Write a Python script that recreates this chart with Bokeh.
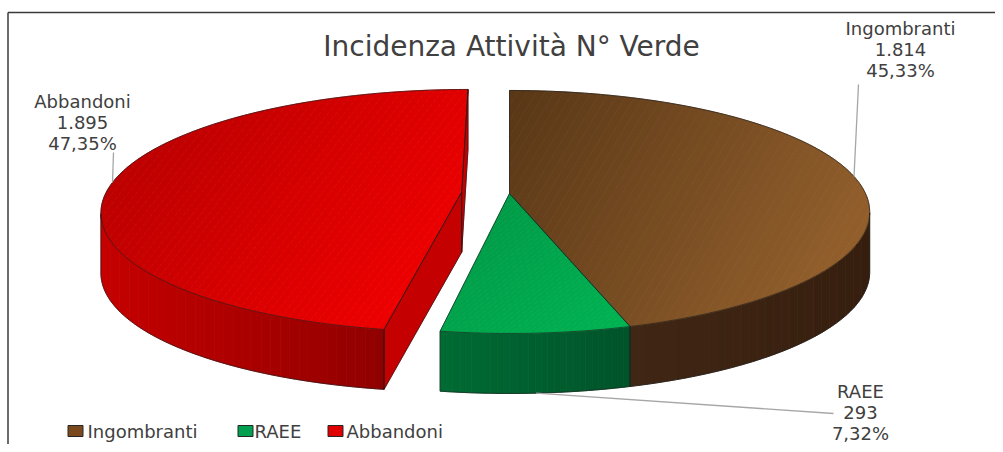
import numpy as np
from bokeh.plotting import figure
from bokeh.models import Range1d, ColumnDataSource
from bokeh.embed import file_html
from bokeh.resources import INLINE
from bokeh.core.properties import value

# ---------------- data ----------------
title_text = "Incidenza Attività N° Verde"
categories = ["Ingombranti", "RAEE", "Abbandoni"]
counts = [1814, 293, 1895]
explode = [0.0, 0.0, 0.135]

total = sum(counts)
shares = [c / total for c in counts]
count_labels = [f"{c:,}".replace(",", ".") for c in counts]
pct_labels = [f"{s * 100:.2f}".replace(".", ",") + "%" for s in shares]

# ---------------- layout / style ----------------
W, H = 995, 444
CX, CY = 509.0, 193.0
A, B, K, T = 356.0, 118.7, 0.152, 60.0
FONT = "DejaVu Sans"
TXT = "#404040"
EDGE = "#1c1c1c"

top_grad = [((520, 95), (860, 300), "#5A3817", "#98632E"),
            ((500, 190), (620, 335), "#009A47", "#00B352"),
            ((150, 110), (430, 330), "#BA0000", "#F40000")]
side_grad = [((630, 0), (870, 0), "#402715", "#361E0E"),
             ((440, 0), (630, 0), "#006B33", "#00532A"),
             ((100, 0), (385, 0), "#C60000", "#900000")]
cut_color = ["#4A2D15", "#006030", "#C40000"]
legend_fill = ["#7A4A1E", "#00A050", "#E00000"]

label_pos = [(900, 27.5), (860, 391), (82, 101)]   # centre x, middle of first line
line_gap = 21
lead_start = [(858, 84), (833, 413), (113, 152)]
lead_bottom = [False, True, False]
legend_x = [75, 245, 335]
legend_y = 430.5
legend_text_x = [87, 254, 346]


def hex2rgb(h):
    return tuple(int(h[i:i + 2], 16) for i in (1, 3, 5))


def mix(c0, c1, g):
    a, b = hex2rgb(c0), hex2rgb(c1)
    return "#%02x%02x%02x" % tuple(int(round(a[i] + (b[i] - a[i]) * g)) for i in range(3))


def gval(spec, x, y):
    (x0, y0), (x1, y1), c0, c1 = spec
    dx, dy = x1 - x0, y1 - y0
    return ((x - x0) * dx + (y - y0) * dy) / (dx * dx + dy * dy)


def clip(poly, f, keep_ge):
    out = []
    m = len(poly)
    for idx in range(m):
        p0, p1 = poly[idx], poly[(idx + 1) % m]
        f0, f1 = f(p0), f(p1)
        if not keep_ge:
            f0, f1 = -f0, -f1
        in0, in1 = f0 >= 0, f1 >= 0
        if in0:
            out.append(p0)
        if in0 != in1:
            t = f0 / (f0 - f1)
            out.append((p0[0] + t * (p1[0] - p0[0]), p0[1] + t * (p1[1] - p0[1])))
    return out


def bands(poly, spec, nb, xs_out, ys_out, c_out):
    gs = [gval(spec, q[0], q[1]) for q in poly]
    edges = np.linspace(min(gs), max(gs), nb + 1)
    for b in range(nb):
        lo, hi = edges[b], edges[b + 1]
        pc = clip(poly, lambda q, lo=lo: gval(spec, q[0], q[1]) - lo, True)
        if len(pc) < 3:
            continue
        pc = clip(pc, lambda q, hi=hi: gval(spec, q[0], q[1]) - hi, False)
        if len(pc) < 3:
            continue
        gm = min(1.0, max(0.0, 0.5 * (lo + hi)))
        xs_out.append([q[0] for q in pc]); ys_out.append([q[1] for q in pc])
        c_out.append(mix(spec[2], spec[3], gm))


def proj(u, v):
    s = 1.0 / (1.0 + K * v)
    return CX + A * u * s, CY - B * v * s


p = figure(width=W, height=H, output_backend="svg", toolbar_location=None,
           x_axis_type=None, y_axis_type=None, min_border=0,
           x_range=Range1d(0, W), y_range=Range1d(H, 0))
p.outline_line_color = None
p.background_fill_color = "white"
p.border_fill_color = "white"
p.grid.visible = False

angles = np.concatenate([[0.0], np.cumsum(shares)]) * 2 * np.pi
n = len(counts)

cut_xs, cut_ys, cut_c = [], [], []
side_xs, side_ys, side_c = [], [], []
top_xs, top_ys, top_c = [], [], []
out_xs, out_ys = [], []
rim_top, rim_bot = [], []

for i in range(n):
    t0, t1 = angles[i], angles[i + 1]
    tm = 0.5 * (t0 + t1)
    ou, ov = explode[i] * np.sin(tm), explode[i] * np.cos(tm)

    def P(r, t):
        return proj(ou + r * np.sin(t), ov + r * np.cos(t))

    cx0, cy0 = P(0, 0)
    rim_top.append(P(1.0, tm))
    xb, yb = P(1.0, tm)
    rim_bot.append((xb, yb + T))

    # cut faces of exploded slices
    for t, nrm, nb in ((t0, (-np.cos(t0), np.sin(t0)), (i - 1) % n),
                       (t1, (np.cos(t1), -np.sin(t1)), (i + 1) % n)):
        if explode[i] == 0 and explode[nb] == 0:
            continue
        vis = (-ou) * nrm[0] + (-1.0 / K - ov) * nrm[1]
        if vis <= 1e-6:
            continue
        ex, ey = P(1, t)
        xs = [cx0, ex, ex, cx0]
        ys = [cy0, ey, ey + T, cy0 + T]
        cut_xs.append(xs); cut_ys.append(ys); cut_c.append(cut_color[i])
        out_xs.append(xs + [xs[0]]); out_ys.append(ys + [ys[0]])

    na = max(8, int(np.degrees(t1 - t0) / 1.0))
    th = np.linspace(t0, t1, na + 1)

    # top face
    arc = [P(1, t) for t in th]
    bands([(cx0, cy0)] + arc, top_grad[i], 48, top_xs, top_ys, top_c)

    # outer side (front-facing part)
    vis_idx = [k for k in range(na)
               if -ou * np.sin(0.5 * (th[k] + th[k + 1])) - ov * np.cos(0.5 * (th[k] + th[k + 1]))
               - 1 - np.cos(0.5 * (th[k] + th[k + 1])) / K > 0]
    if vis_idx:
        ks = list(range(vis_idx[0], vis_idx[-1] + 2))
        tx_ = [P(1, th[k])[0] for k in ks]
        ty_ = [P(1, th[k])[1] for k in ks]
        side_poly = list(zip(tx_, ty_)) + list(zip(tx_[::-1], [y + T for y in ty_[::-1]]))
        bands(side_poly, side_grad[i], 30, side_xs, side_ys, side_c)
        out_xs.append([tx_[0], tx_[0]] + tx_ + [tx_[-1]])
        out_ys.append([ty_[0], ty_[0] + T] + [y + T for y in ty_] + [ty_[-1]])

    out_xs.append([cx0] + [q[0] for q in arc] + [cx0])
    out_ys.append([cy0] + [q[1] for q in arc] + [cy0])

for xs_, ys_, c_ in ((cut_xs, cut_ys, cut_c), (side_xs, side_ys, side_c), (top_xs, top_ys, top_c)):
    p.patches(xs="xs", ys="ys", fill_color="c", line_color="c", line_width=0.8,
              source=ColumnDataSource(dict(xs=xs_, ys=ys_, c=c_)))
p.multi_line(xs=out_xs, ys=out_ys, line_color=EDGE, line_alpha=0.8, line_width=0.8)

# leader lines
lx, ly = [], []
for i in range(n):
    end = rim_bot[i] if lead_bottom[i] else rim_top[i]
    lx.append([lead_start[i][0], end[0]])
    ly.append([lead_start[i][1], end[1]])
p.multi_line(xs=lx, ys=ly, line_color="#A6A6A6", line_width=1.3)

# data labels
tx, ty, tt = [], [], []
for i in range(n):
    x0, y0 = label_pos[i]
    for j, s in enumerate([categories[i], count_labels[i], pct_labels[i]]):
        tx.append(x0); ty.append(y0 + j * line_gap); tt.append(s)
p.text(x=tx, y=ty, text=tt, text_font=value(FONT), text_font_size="18px",
       text_color=TXT, text_align="center", text_baseline="middle")

# title
p.text(x=[511], y=[46], text=[title_text], text_font=value(FONT), text_font_size="28px",
       text_color=TXT, text_align="center", text_baseline="middle")

# legend
p.rect(x=legend_x, y=[legend_y] * n, width=15, height=11, fill_color=legend_fill,
       line_color="#262626", line_width=1)
p.text(x=legend_text_x, y=[legend_y] * n, text=categories,
       text_font=value(FONT), text_font_size="18px", text_color=TXT,
       text_align="left", text_baseline="middle")

# chart frame
p.multi_line(xs=[[7.5, W], [7.5, 7.5]], ys=[[12, 12], [12, H]],
             line_color="#3a3a3a", line_width=1.5)

open("out.html", "w").write(file_html(p, INLINE))
